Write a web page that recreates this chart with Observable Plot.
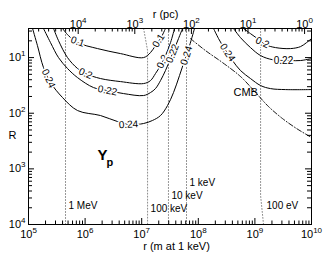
<!DOCTYPE html>
<html><head><meta charset="utf-8">
<script src="https://cdn.jsdelivr.net/npm/d3@7"></script>
<script src="https://cdn.jsdelivr.net/npm/@observablehq/plot@0.6"></script>
<style>body{margin:0;background:#fff}svg{display:block}</style>
</head><body><div id="chart"></div>
<script>
// ---- contour data (r in m at 1 keV, R) ----
const contourLevels = ["0.1", "0.2", "0.22", "0.24", "0.24", "0.22", "0.2"];
const c1_r = [3.99e5, 5.09e5, 7.35e5, 1.66e6, 4.22e6, 1.08e7, 1.43e7, 1.75e7, 2.15e7, 2.63e7];
const c1_R = [3.0, 4.03, 5.38, 6.89, 8.47, 10.0, 8.13, 6.10, 4.56, 3.0];
const c2_r = [2.77e5, 3.39e5, 4.89e5, 7.35e5, 1.02e6, 1.87e6, 4.22e6, 1.08e7, 1.43e7, 1.75e7, 2.15e7, 2.63e7, 3.23e7, 3.80e7];
const c2_R = [3.0, 4.96, 10.0, 15.7, 19.4, 23.8, 27.0, 29.3, 25.9, 19.4, 13.9, 9.2, 5.38, 3.0];
const c3_r = [1.84e5, 2.45e5, 3.39e5, 4.89e5, 7.35e5, 1.41e6, 2.49e6, 4.76e6, 1.08e7, 1.43e7, 1.75e7, 2.15e7, 2.63e7, 3.23e7, 3.80e7, 4.47e7, 5.26e7];
const c3_R = [3.0, 5.38, 10.0, 15.7, 22.9, 34.6, 39.1, 44.3, 48.1, 42.5, 36.1, 25.9, 17.1, 10.4, 6.89, 4.56, 3.0];
const c4_r = [1.18e5, 1.44e5, 1.84e5, 2.45e5, 3.99e5, 7.35e5, 1.87e6, 3.73e6, 6.34e6, 1.08e7, 1.55e7, 2.15e7, 2.86e7, 3.65e7, 4.66e7, 5.70e7, 7.00e7, 8.57e7];
const c4_R = [3.0, 6.10, 15.1, 28.1, 52.2, 89.5, 110, 141, 160, 153, 135, 110, 72.8, 42.5, 21.0, 11.3, 6.10, 3.0];
const c5_r = [1.86e8, 2.28e8, 2.90e8, 4.02e8, 5.57e8, 8.36e8, 1.26e9, 1.89e9, 3.48e9, 1e10];
const c5_R = [3.0, 4.56, 6.89, 11.3, 17.1, 23.8, 31.8, 36.1, 37.6, 37.6];
const c6_r = [4.19e8, 5.57e8, 8.36e8, 1.26e9, 2.05e9, 4.26e9, 6.40e9, 1e10];
const c6_R = [3.0, 4.38, 6.61, 9.20, 10.9, 11.3, 11.3, 10.4];
const c7_r = [6.30e8, 8.36e8, 1.11e9, 1.54e9, 2.31e9, 4.26e9, 6.40e9, 8.17e9, 1e10];
const c7_R = [3.0, 3.71, 4.56, 5.85, 6.61, 6.89, 6.35, 5.38, 4.56];

// ---- CMB line ----
const cmb_r = [7.28e7, 1.34e8, 2.68e8, 5.57e8, 1.03e9, 1.74e9, 3.08e9, 5.43e9, 1e10];
const cmb_R = [4.56, 7.48, 12.3, 21.9, 42.5, 75.9, 125, 188, 273];

// ---- temperature lines ----
const tempNames = ["1 MeV", "100 keV", "10 keV", "1 keV", "100 eV"];
const tempLine_r = [[4.51e5, 4.51e5], [1.08e7, 1.27e7, 1.27e7], [2.97e7, 2.97e7], [6.19e7, 6.19e7], [1.26e9, 1.26e9, 1.42e9]];
const tempLine_R = [[3, 1e4], [3, 7.48, 1e4], [3, 1e4], [3, 1e4], [3, 3006, 1e4]];
const tempLabel_r = [4.51e5, 1.27e7, 2.97e7, 6.19e7, 1.42e9];
const tempLabel_R = [4540, 5140, 3010, 1750, 4540];

// ---- contour labels ----
const labText = ["0.1", "0.1", "0.2", "0.2", "0.22", "0.22", "0.24", "0.24", "0.24", "0.24", "0.22", "0.2"];
const lab_r = [7.35e5, 1.98e7, 1.02e6, 2.33e7, 2.49e6, 3.50e7, 2.25e5, 5.85e6, 6.19e7, 3.28e8, 3.20e9, 1.36e9];
const lab_R = [5.16, 4.96, 19.4, 11.8, 39.1, 8.47, 23.8, 160, 9.20, 8.13, 11.3, 5.38];
const labRot = [20, -58, 23, -63, 11, -68, 65, -3, -72, 56, 0, 25];

// ---- axes ----
const xMajor = [1e5, 1e6, 1e7, 1e8, 1e9, 1e10];
const yMajor = [10, 100, 1000, 10000];
const pcMajor = [1e4, 1e3, 1e2, 1e1, 1e0];
const pcToR = 7.55e9; // r (m) = pcToR / r(pc)

// build tables
const cr = [c1_r, c2_r, c3_r, c4_r, c5_r, c6_r, c7_r];
const cR = [c1_R, c2_R, c3_R, c4_R, c5_R, c6_R, c7_R];
const contourRows = contourLevels.flatMap((lv, i) => cr[i].map((r, j) => ({id: i, level: lv, r, R: cR[i][j]})));
const cmbRows = cmb_r.map((r, i) => ({r, R: cmb_R[i]}));
const tempRows = tempNames.flatMap((n, i) => tempLine_r[i].map((r, j) => ({id: n, r, R: tempLine_R[i][j]})));
const tempLabels = tempNames.map((n, i) => ({n, r: tempLabel_r[i], R: tempLabel_R[i]}));
const labels = labText.map((t, i) => ({t, r: lab_r[i], R: lab_R[i], rot: labRot[i]}));

const xMinor = [];
for (let k = 5; k < 10; k++) for (let m = 2; m <= 9; m++) xMinor.push(m * 10 ** k);
const yMinor = [];
for (let k = 0; k < 4; k++) for (let m = 2; m <= 9; m++) { const v = 10 ** (k + 1) / m; if (v >= 3) yMinor.push(v); }
const pcMajorR = pcMajor.map(p => pcToR / p);
const pcMinorR = [];
for (let k = 0; k <= 4; k++) for (let m = 2; m <= 9; m++) { const v = pcToR / 10 ** (k + 1) * m; if (v >= 1e5 && v <= 1e10) pcMinorR.push(v); }
const pcTicks = pcMajor.map(p => ({r: pcToR / p, lab: "10^" + Math.round(Math.log10(p))}));

const W = 327, H = 255, mL = 28, mR = 16, mT = 28, mB = 31;
const iW = W - mL - mR, iH = H - mT - mB;
const exp10 = d => "10^" + Math.round(Math.log10(d));

const chart = Plot.plot({
  width: W, height: H, marginLeft: mL, marginRight: mR, marginTop: mT, marginBottom: mB,
  style: {fontFamily: "'Liberation Sans', Arial, sans-serif", fontSize: "11px", background: "white", color: "black"},
  x: {type: "log", domain: [1e5, 1e10]},
  y: {type: "log", domain: [3, 1e4], reverse: true},
  marks: [
    Plot.line(tempRows, {x: "r", y: "R", z: "id", stroke: "#8c8c8c", strokeWidth: 1, strokeDasharray: "1,2", clip: true}),
    Plot.line(contourRows, {x: "r", y: "R", z: "id", stroke: "black", strokeWidth: 1, curve: "catmull-rom", clip: true}),
    Plot.line(cmbRows, {x: "r", y: "R", stroke: "black", strokeWidth: 0.9, strokeDasharray: "5,2,1,2", curve: "catmull-rom", clip: true}),
    Plot.text(labels, {x: "r", y: "R", text: "t", rotate: "rot", fontSize: 10, fill: "black", stroke: "white", strokeWidth: 3}),
    Plot.text(tempLabels, {x: "r", y: "R", text: "n", dx: 3, textAnchor: "start", fontSize: 10, fill: "black"}),
    Plot.text(["CMB"], {frameAnchor: "top-left", text: d => d, dx: 205, dy: 60, fontSize: 11}),
    Plot.text(["Y"], {frameAnchor: "top-left", text: d => d, dx: 69, dy: 131, textAnchor: "start", lineAnchor: "bottom", fontSize: 15, fontWeight: "bold"}),
    Plot.text(["p"], {frameAnchor: "top-left", text: d => d, dx: 78, dy: 137, textAnchor: "start", lineAnchor: "bottom", fontSize: 11, fontWeight: "bold"}),
    // ticks (inward)
    Plot.tickX(xMajor, {x: d => d, insetTop: iH - 6, stroke: "black"}),
    Plot.tickX(xMinor, {x: d => d, insetTop: iH - 3.5, stroke: "black"}),
    Plot.tickX(pcMajorR, {x: d => d, insetBottom: iH - 6, stroke: "black"}),
    Plot.tickX(pcMinorR, {x: d => d, insetBottom: iH - 3.5, stroke: "black"}),
    Plot.tickY(yMajor, {y: d => d, insetRight: iW - 6, stroke: "black"}),
    Plot.tickY(yMinor, {y: d => d, insetRight: iW - 4, stroke: "black"}),
    Plot.tickY(yMajor, {y: d => d, insetLeft: iW - 6, stroke: "black"}),
    Plot.tickY(yMinor, {y: d => d, insetLeft: iW - 4, stroke: "black"}),
    Plot.frame({stroke: "black"}),
    Plot.axisX(xMajor, {anchor: "bottom", tickSize: 0, tickPadding: 6, tickFormat: exp10, label: null, fontSize: 11}),
    Plot.text(pcTicks, {x: "r", text: "lab", frameAnchor: "top", lineAnchor: "bottom", dy: -1, fontSize: 11}),
    Plot.axisY(yMajor, {anchor: "left", tickSize: 0, tickPadding: 3, tickFormat: exp10, label: null, fontSize: 11}),
    Plot.text(["R"], {frameAnchor: "left", text: d => d, dx: -20, dy: 9, fontSize: 11}),
    Plot.text(["r (pc)"], {frameAnchor: "top", text: d => d, dx: -4.5, dy: -18, fontSize: 11}),
    Plot.text(["r (m at 1 keV)"], {frameAnchor: "bottom", text: d => d, dx: 6.5, dy: 25, fontSize: 11})
  ]
});

chart.querySelectorAll("text").forEach(t => {
  const m = /^10\^(-?\d+)$/.exec(t.textContent);
  if (!m) return;
  t.textContent = "10";
  const s = document.createElementNS("http://www.w3.org/2000/svg", "tspan");
  s.setAttribute("dy", "-5");
  s.setAttribute("font-size", "8");
  s.textContent = m[1];
  t.appendChild(s);
});
document.getElementById("chart").appendChild(chart);
</script>
</body></html>
